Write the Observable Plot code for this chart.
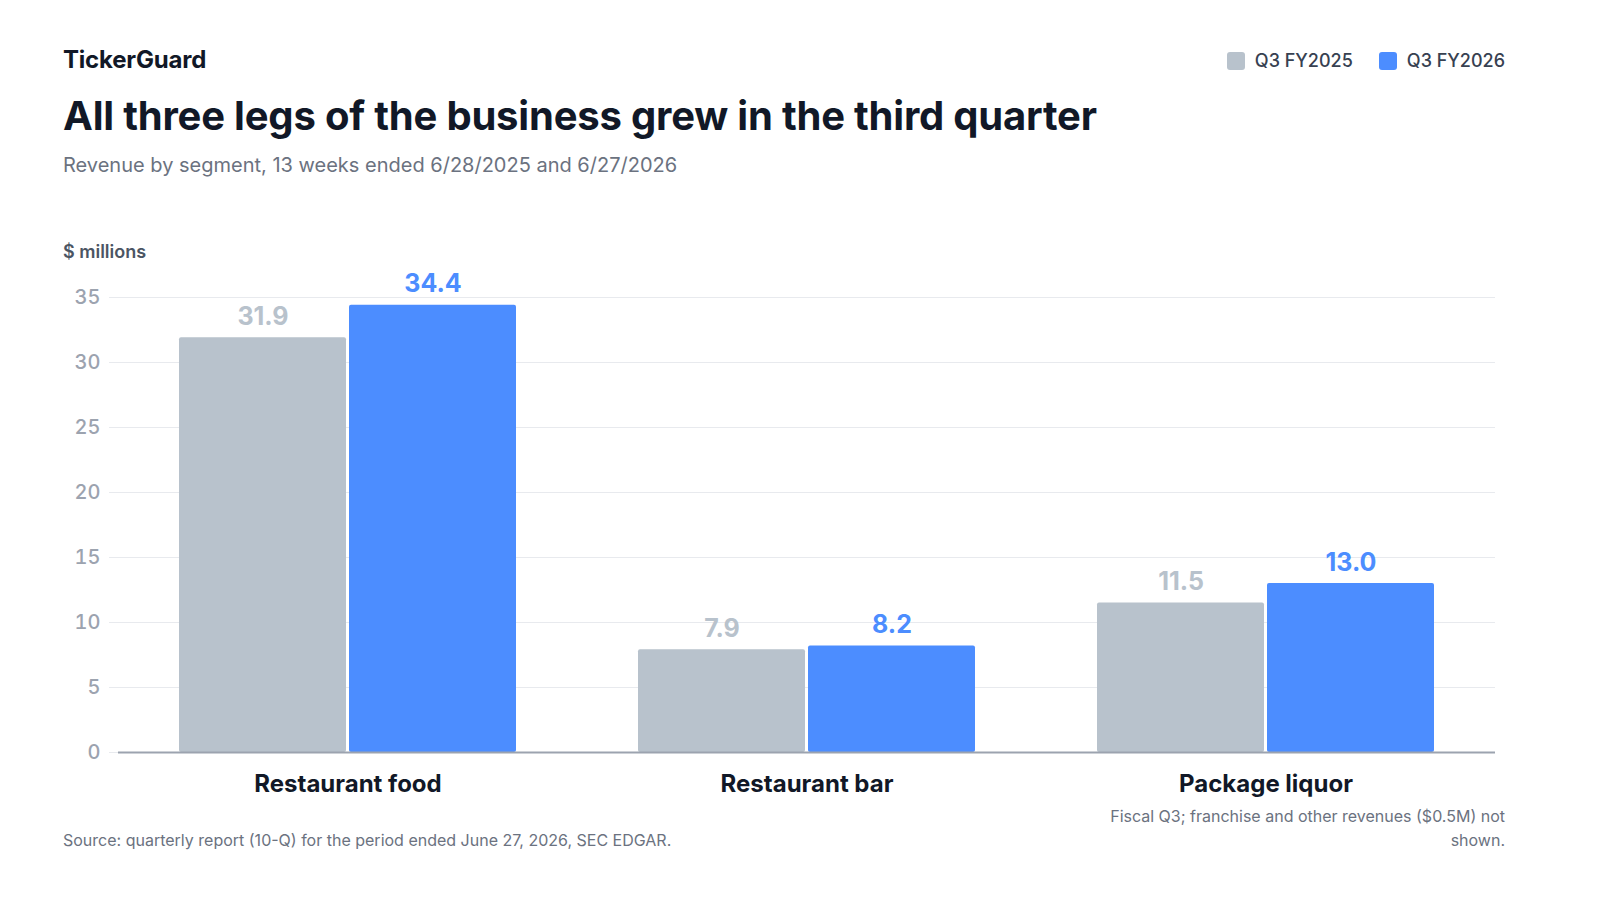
<!DOCTYPE html>
<html>
<head>
<meta charset="utf-8">
<script src="https://cdn.jsdelivr.net/npm/d3@7"></script>
<script src="https://cdn.jsdelivr.net/npm/@observablehq/plot@0.6"></script>
<style>
  html, body { margin: 0; padding: 0; background: #fff; }
  body { font-family: Inter, "Noto Sans", sans-serif; width: 1600px; height: 900px; overflow: hidden; }
  #wrap { position: relative; width: 1442px; margin-left: 63px; padding-top: 45px; }
  .brand { font-size: 24px; line-height: 30px; font-weight: 700; color: #111827; letter-spacing: -0.2px; }
  .title { margin-top: 17px; font-size: 40px; line-height: 48px; font-weight: 700; color: #111827; letter-spacing: -0.2px; }
  .subtitle { margin-top: 11px; font-size: 20px; line-height: 28px; color: #6b7280; }
  .unit { margin-top: 61px; font-size: 18px; line-height: 24px; font-weight: 600; color: #4b5563; }
  .legend { position: absolute; right: 0; top: 48px; display: flex; gap: 26px; align-items: center; }
  .legend .item { display: flex; align-items: center; gap: 10px; font-size: 18px; font-weight: 500; color: #374151; line-height: 26px; }
  .legend .sw { width: 18px; height: 18px; border-radius: 3px; display: inline-block; }
  #chart svg { display: block; overflow: visible; }
  .footer { display: flex; justify-content: space-between; align-items: flex-end; margin-top: 12px; font-size: 16px; line-height: 24px; color: #6b7280; }
  .footer .note { max-width: 400px; text-align: right; }
</style>
</head>
<body>
<div id="wrap">
  <div class="brand">TickerGuard</div>
  <div class="legend" id="legend"></div>
  <div class="title">All three legs of the business grew in the third quarter</div>
  <div class="subtitle">Revenue by segment, 13 weeks ended 6/28/2025 and 6/27/2026</div>
  <div class="unit">$ millions</div>
  <div id="chart"></div>
  <div class="footer">
    <div class="source">Source: quarterly report (10-Q) for the period ended June 27, 2026, SEC EDGAR.</div>
    <div class="note">Fiscal Q3; franchise and other revenues ($0.5M) not shown.</div>
  </div>
</div>
<script>
const segments = ["Restaurant food", "Restaurant bar", "Package liquor"];
const periods = ["Q3 FY2025", "Q3 FY2026"];
const fy2025 = [31.9, 7.9, 11.5];
const fy2026 = [34.4, 8.2, 13.0];
const yTicks = [0, 5, 10, 15, 20, 25, 30, 35];
const colors = ["#b8c2cc", "#4c8dff"];

const rows = [];
segments.forEach((s, i) => {
  rows.push({segment: s, period: periods[0], value: fy2025[i]});
  rows.push({segment: s, period: periods[1], value: fy2026[i]});
});

const legend = document.getElementById("legend");
periods.forEach((p, i) => {
  const it = document.createElement("div");
  it.className = "item";
  it.innerHTML = `<span class="sw" style="background:${colors[i]}"></span><span>${p}</span>`;
  legend.appendChild(it);
});

const grid = "#e8eaee";
const chart = Plot.plot({
  width: 1442,
  height: 528,
  marginLeft: 55,
  marginRight: 10,
  marginTop: 33,
  marginBottom: 40,
  style: {fontFamily: "Inter, 'Noto Sans', sans-serif", background: "transparent", overflow: "visible"},
  fx: {domain: segments, paddingInner: 0, paddingOuter: 0, label: null},
  x: {domain: periods, paddingInner: 0.0175, paddingOuter: 0.351, axis: null},
  y: {domain: [0, 35], ticks: yTicks, label: null},
  color: {domain: periods, range: colors},
  marks: [
    Plot.gridY(yTicks, {stroke: grid, strokeOpacity: 1, strokeWidth: 1.2}),
    Plot.axisY(yTicks, {tickSize: 9, tickPadding: 9, stroke: grid, strokeOpacity: 1, fill: "#9ca3af", fontSize: 20, fontWeight: 500, label: null}),
    Plot.barY(rows, {fx: "segment", x: "period", y: "value", fill: "period", rx: 2}),
    Plot.ruleY([0], {stroke: "#9ca3af", strokeWidth: 2}),
    Plot.text(rows, {fx: "segment", x: "period", y: "value", text: d => d.value.toFixed(1), fill: "period",
      lineAnchor: "bottom", dy: -13, fontSize: 25, fontWeight: 700}),
    Plot.axisFx({anchor: "bottom", tickSize: 0, tickPadding: 22, fontSize: 24, fontWeight: 700, fill: "#111827", label: null})
  ]
});
document.getElementById("chart").appendChild(chart);
</script>
</body>
</html>
